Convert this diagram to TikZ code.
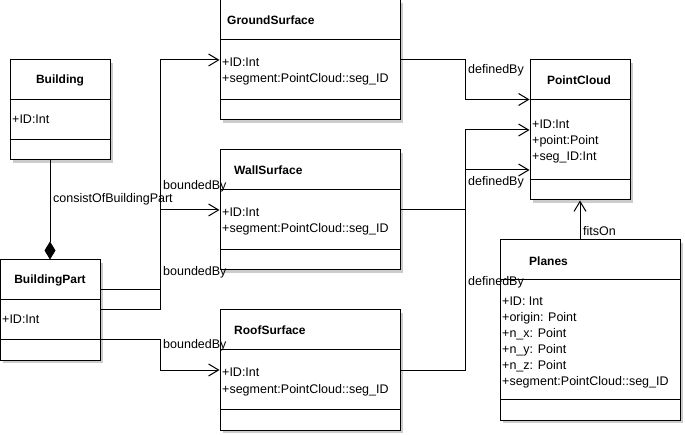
\documentclass[tikz,border=0pt]{standalone}
\usepackage{fontspec}
\setmainfont{Liberation Sans}
\usetikzlibrary{arrows.meta,shadows}
\tikzset{
	classbox/.style={draw, fill=white, line width=1pt, inner sep=0pt, drop shadow={shadow xshift=3pt, shadow yshift=-3pt, opacity=1, fill=black!20}},
	classname/.style={inner sep=0pt, font=\fontsize{12}{16}\selectfont\bfseries},
	attr/.style={align=left, anchor=base west, inner sep=0pt},
	lbl/.style={anchor=west, inner sep=0pt},
	assoc/.style={line width=1pt, -{Straight Barb[length=10pt,width=12pt]}},
}
\begin{document}
\begin{tikzpicture}[x=1pt, y=-1pt, every node/.style={font=\fontsize{12.5}{16.5}\selectfont}]
		\useasboundingbox (0,0) rectangle (685,435);
		% building
		\node[classbox, minimum width=100, minimum height=100] (building) at (60,110) {};
		\node[classname] (buildingname) at (60,80) {Building};
		\draw[line width=1pt] ([yshift=-40pt]building.north west) -- ([yshift=-40pt]building.north east);
		\draw[line width=1pt] ([yshift=-80pt]building.north west) -- ([yshift=-80pt]building.north east);
		\node[attr] (buildingattr) at (12,124) {+ID:Int};
		% building part
		\node[classbox, minimum width=100, minimum height=100] (bpart) at (50,310) {};
		\node[classname] (bpartname) at (50,280) {BuildingPart};
		\draw[line width=1pt] ([yshift=-40pt]bpart.north west) -- ([yshift=-40pt]bpart.north east);
		\draw[line width=1pt] ([yshift=-80pt]bpart.north west) -- ([yshift=-80pt]bpart.north east);
		\node[attr] (bpartattr) at (2,324) {+ID:Int};
		% ground surface
		\node[classbox, minimum width=180, minimum height=120] (gsurf) at (310,60) {};
		\node[classname, anchor=west] (gsurfname) at (227,20) {GroundSurface};
		\draw[line width=1pt] ([yshift=-40pt]gsurf.north west) -- ([yshift=-40pt]gsurf.north east);
		\draw[line width=1pt] ([yshift=-100pt]gsurf.north west) -- ([yshift=-100pt]gsurf.north east);
		\node[attr] (gsurfattr) at (222,83) {+ID:Int\\+segment:PointCloud::seg\_ID};
		% wall surface
		\node[classbox, minimum width=180, minimum height=120] (wsurf) at (310,210) {};
		\node[classname, anchor=west] (wsurfname) at (234,170) {WallSurface};
		\draw[line width=1pt] ([yshift=-40pt]wsurf.north west) -- ([yshift=-40pt]wsurf.north east);
		\draw[line width=1pt] ([yshift=-100pt]wsurf.north west) -- ([yshift=-100pt]wsurf.north east);
		\node[attr] (wsurfattr) at (222,233) {+ID:Int\\+segment:PointCloud::seg\_ID};
		% roof surface
		\node[classbox, minimum width=180, minimum height=120] (rsurf) at (310,370) {};
		\node[classname, anchor=west] (rsurfname) at (234,330) {RoofSurface};
		\draw[line width=1pt] ([yshift=-40pt]rsurf.north west) -- ([yshift=-40pt]rsurf.north east);
		\draw[line width=1pt] ([yshift=-100pt]rsurf.north west) -- ([yshift=-100pt]rsurf.north east);
		\node[attr] (rsurfattr) at (222,393) {+ID:Int\\+segment:PointCloud::seg\_ID};
		% point cloud
		\node[classbox, minimum width=100, minimum height=140] (pcloud) at (580,130) {};
		\node[classname] (pcloudname) at (579,80) {PointCloud};
		\draw[line width=1pt] ([yshift=-40pt]pcloud.north west) -- ([yshift=-40pt]pcloud.north east);
		\draw[line width=1pt] ([yshift=-120pt]pcloud.north west) -- ([yshift=-120pt]pcloud.north east);
		\node[attr, font=\fontsize{12.5}{16}\selectfont] (pcloudattr) at (532,161) {+ID:Int\\+point:Point\\+seg\_ID:Int};
		% planes
		\node[classbox, minimum width=180, minimum height=180] (planes) at (590,330) {};
		\node[classname, anchor=west] (planesname) at (529,261) {Planes};
		\draw[line width=1pt] ([yshift=-40pt]planes.north west) -- ([yshift=-40pt]planes.north east);
		\draw[line width=1pt] ([yshift=-160pt]planes.north west) -- ([yshift=-160pt]planes.north east);
		\node[attr, font=\fontsize{12.5}{16}\selectfont] (planesattr) at (502,385) {+ID: Int\\+origin: Point\\+n\_x: Point\\+n\_y: Point\\+n\_z: Point\\+segment:PointCloud::seg\_ID};

		% composizione
		\draw[line width=1pt, -{Diamond[length=18pt,width=11pt]}] (building.south -| bpart.north) -- (bpart.north);
		\node[lbl] (consist) at (53,199) {consistOfBuildingPart};

		% boundedBy
		\draw[assoc] ([yshift=-30pt]bpart.north east) -- ++(60,0) |- (gsurf.west);
		\draw[assoc] (bpart.east) -- ++(60,0) |- (wsurf.west);
		\draw[assoc] ([yshift=-80pt]bpart.north east) -- ++(60,0) |- (rsurf.west);
		\node[lbl] (bounded1) at (163,186) {boundedBy};
		\node[lbl] (bounded2) at (163,272) {boundedBy};
		\node[lbl] (bounded3) at (163,345) {boundedBy};

		% definedBy
		\draw[assoc] (gsurf.east) -- ++(65,0) |- ([yshift=-40pt]pcloud.north west);
		\draw[assoc] (wsurf.east) -- ++(65,0) |- ([yshift=-40pt]pcloud.west);
		\draw[assoc] (rsurf.east) -- ++(65,0) |- (pcloud.west);
		\node[lbl] (defined1) at (468,70) {definedBy};
		\node[lbl] (defined2) at (468,182) {definedBy};
		\node[lbl] (defined3) at (468,282) {definedBy};

		% fitsOn
		\draw[assoc] ([xshift=-10pt]planes.north) -- (pcloud.south);
		\node[lbl] (fits) at (583,231) {fitsOn};
\end{tikzpicture}
\end{document}
